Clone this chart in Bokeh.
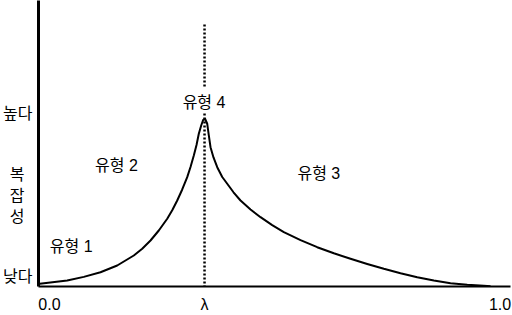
from bokeh.plotting import figure
from bokeh.models import Range1d, FixedTicker, Label
from bokeh.embed import file_html
from bokeh.resources import INLINE

# --- data ---
lam = 0.3441
curve_x = [-0.0244, -0.0215, 0.0393, 0.0761, 0.1132, 0.1503, 0.1871, 0.2058, 0.2242,
           0.2426, 0.2613, 0.2724, 0.2835, 0.2946, 0.3057, 0.3130, 0.3203, 0.3263,
           0.3314, 0.3367, 0.3412, 0.3452,
           0.3501, 0.3536, 0.3574, 0.3640, 0.3723, 0.3834, 0.3945, 0.4084, 0.4240,
           0.4462, 0.4684, 0.4943, 0.5201, 0.5572, 0.5942, 0.6311, 0.6681, 0.7052,
           0.7421, 0.7791, 0.8162, 0.8531, 0.8901, 0.9272, 0.9640, 0.9789]
curve_y = [0.0144, 0.0156, 0.0346, 0.0554, 0.0825, 0.1212, 0.1789, 0.2181, 0.2654,
           0.3231, 0.3907, 0.4397, 0.4963, 0.5597, 0.6307, 0.6896, 0.7559, 0.8165,
           0.8811, 0.9290, 0.9619, 0.9677,
           0.9388, 0.8713, 0.8038, 0.7444, 0.6884, 0.6319, 0.5926, 0.5436, 0.4963,
           0.4443, 0.3999, 0.3543, 0.3133, 0.2677, 0.2268, 0.1916, 0.1598, 0.1298,
           0.1021, 0.0767, 0.0537, 0.0346, 0.0190, 0.0098, 0.0040, 0.0012]
x_ticks = [0.0, lam, 1.0]
x_tick_labels = ["0.0", "λ", "1.0"]
y_ticks = [0.055, 0.4039, 0.5251, 0.6463, 1.0]
y_tick_labels = ["낮다", "성\u2002", "잡\u2002", "복\u2002", "높다"]
type_labels = ["유형 1", "유형 2", "유형 3", "유형 4"]
type_x = [0.0482, 0.1487, 0.5978, 0.3430]
type_y = [0.2325, 0.6982, 0.6503, 1.0589]
# dashed lambda line, broken around the 유형 4 label
dash_y0 = [1.512, 0.9983]
dash_y1 = [1.1425, 0.0]

FONT = "Liberation Sans, Noto Sans CJK KR"

p = figure(width=512, height=315, output_backend="svg", toolbar_location=None,
           x_range=Range1d(-0.0244, 1.0232), y_range=Range1d(0, 1.650),
           min_border_left=38, min_border_right=2, min_border_top=0, min_border_bottom=29)
p.outline_line_color = None
p.grid.visible = False
p.background_fill_color = "white"

# curve
p.line(curve_x, curve_y, line_color="black", line_width=2, line_join="round")

# dashed lambda line
p.segment(x0=[lam] * len(dash_y0), y0=dash_y0, x1=[lam] * len(dash_y1), y1=dash_y1,
          line_color="black", line_width=2.5, line_dash="2 2")

# axes
xa = p.xaxis[0]
xa.ticker = FixedTicker(ticks=x_ticks)
xa.major_label_overrides = {t: l for t, l in zip(x_ticks, x_tick_labels)}
xa.major_tick_line_color = None
xa.major_tick_out = 0
xa.major_tick_in = 0
xa.minor_tick_line_color = None
xa.minor_tick_out = 0
xa.axis_line_width = 2
xa.axis_line_color = "black"
xa.major_label_text_font = FONT
xa.major_label_text_font_size = "16px"
xa.major_label_text_color = "black"
xa.major_label_standoff = 9

ya = p.yaxis[0]
ya.ticker = FixedTicker(ticks=y_ticks)
ya.major_label_overrides = {t: l for t, l in zip(y_ticks, y_tick_labels)}
ya.major_tick_line_color = None
ya.major_tick_out = 0
ya.major_tick_in = 0
ya.minor_tick_line_color = None
ya.minor_tick_out = 0
ya.axis_line_width = 3
ya.axis_line_color = "black"
ya.major_label_text_font = FONT
ya.major_label_text_font_size = "16px"
ya.major_label_text_color = "black"
ya.major_label_standoff = 6

# region labels
for t, xx, yy in zip(type_labels, type_x, type_y):
    p.add_layout(Label(x=xx, y=yy, text=t, text_align="center", text_baseline="middle",
                       text_font=FONT, text_font_size="16px", text_color="black"))

open("out.html", "w").write(file_html(p, INLINE))
